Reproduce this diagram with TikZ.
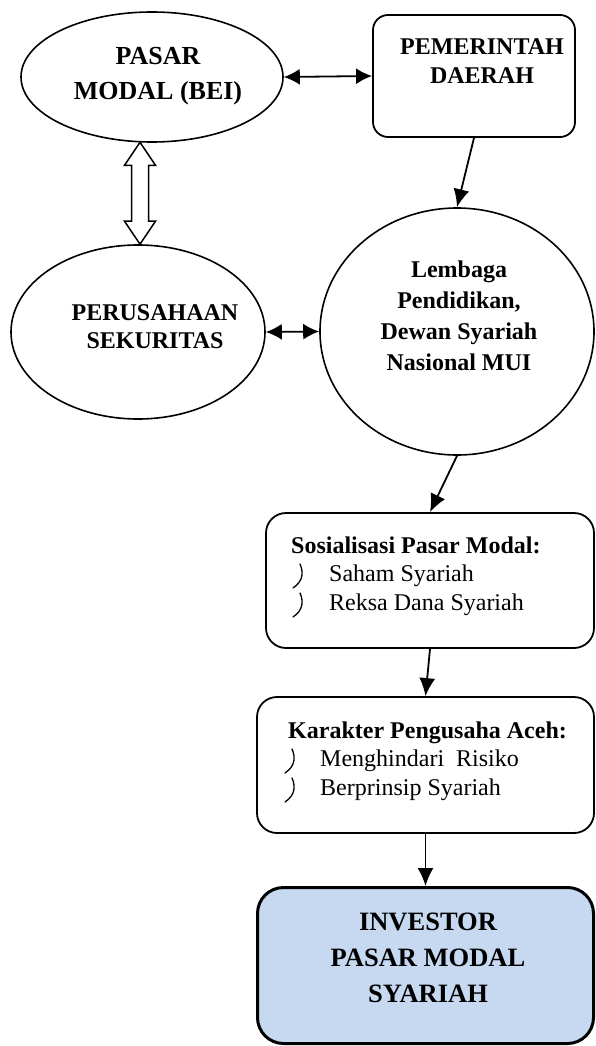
\documentclass[tikz,border=0pt]{standalone}
\usepackage{fontspec}
\setmainfont{Liberation Serif}
\usetikzlibrary{shapes.geometric,arrows.meta,calc}
\definecolor{invfill}{HTML}{C6D9F1}
\begin{document}
\begin{tikzpicture}[x=1pt,y=-1pt,
  oval/.style={ellipse, draw, line width=1.6pt, inner sep=0pt},
  rbox/.style={draw, rectangle, line width=1.8pt, inner sep=0pt},
  lbl/.style={align=center, inner sep=0pt, font=\bfseries\fontsize{24}{29}\selectfont},
  head/.style={anchor=base west, inner sep=0pt, font=\bfseries\fontsize{24}{29}\selectfont},
  itm/.style={anchor=base west, inner sep=0pt, font=\fontsize{24}{29}\selectfont},
  conn/.style={line width=1.8pt, -{Latex[length=18pt,width=16pt]}},
  biconn/.style={line width=1.8pt, {Latex[length=16pt,width=16pt]}-{Latex[length=16pt,width=16pt]}},
  hook/.pic={\draw[line width=1.3pt, line cap=round] (7,-17) .. controls (10.5,-9) and (10.5,0) .. (0,7);}
]
\useasboundingbox (0,0) rectangle (595,1046);

% shapes
\node[oval, minimum width=262pt, minimum height=130pt] (pm) at (152,77) {};
\node[rbox, rounded corners=15pt, minimum width=202pt, minimum height=122pt] (pd) at (474,76) {};
\node[oval, minimum width=254pt, minimum height=174pt] (ps) at (138,332) {};
\node[oval, minimum width=274pt, minimum height=247pt] (lp) at (457,331.5) {};
\node[rbox, rounded corners=20pt, minimum width=328pt, minimum height=135pt] (sp) at (430,580.5) {};
\node[rbox, rounded corners=20pt, minimum width=337pt, minimum height=136pt] (kp) at (425.5,765) {};
\node[rbox, rounded corners=26pt, line width=3pt, fill=invfill, minimum width=336pt, minimum height=156pt] (inv) at (425.5,965.5) {};

% texts
\node[lbl, font=\bfseries\fontsize{26}{35}\selectfont] (pmt) at (158,76) {PASAR\\MODAL (BEI)};
\node[lbl] (pdt) at (482,61) {PEMERINTAH\\DAERAH};
\node[lbl, font=\bfseries\fontsize{24}{28}\selectfont] (pst) at (155,327) {PERUSAHAAN\\SEKURITAS};
\node[lbl, font=\bfseries\fontsize{24}{31}\selectfont] (lpt) at (459,316) {Lembaga\\Pendidikan,\\Dewan Syariah\\Nasional MUI};
\node[lbl, font=\bfseries\fontsize{26.5}{36}\selectfont] (invt) at (428,958) {INVESTOR\\PASAR MODAL\\SYARIAH};

\node[head] (sph) at (291,553) {Sosialisasi Pasar Modal:};
\node[itm] (sp1) at (329,581) {Saham Syariah};
\node[itm] (sp2) at (329,610) {Reksa Dana Syariah};
\pic at (293,581) {hook};
\pic at (293,610) {hook};

\node[head] (kph) at (288,738) {Karakter Pengusaha Aceh:};
\node[itm] (kp1) at (320,766) {Menghindari\ \ Risiko};
\node[itm] (kp2) at (320,795) {Berprinsip Syariah};
\pic at (285,766) {hook};
\pic at (285,795) {hook};

% connectors
\draw[biconn] (pm.east) -- (pd.west);
\draw[biconn] (ps.east) -- (lp.west);
\draw[conn] (pd.south) -- (lp.north);
\draw[conn] (lp.south) -- (sp.north);
\draw[conn] (sp.south) -- (kp.north);
\draw[conn] (kp.south) -- (inv.north);

% hollow double arrow
\coordinate (ht) at ($(pm.south)+(-12,-0.5)$);
\coordinate (hb) at ($(ps.north)+(2,0)$);
\draw[line width=1.5pt, line join=miter, fill=white]
  (ht) -- ($(ht)+(15.5,23)$) -- ($(ht)+(8.5,23)$) -- ($(hb)+(8.5,-23)$) -- ($(hb)+(15.5,-23)$)
  -- (hb) -- ($(hb)+(-15.5,-23)$) -- ($(hb)+(-8.5,-23)$) -- ($(ht)+(-8.5,23)$) -- ($(ht)+(-15.5,23)$) -- cycle;
\end{tikzpicture}
\end{document}
